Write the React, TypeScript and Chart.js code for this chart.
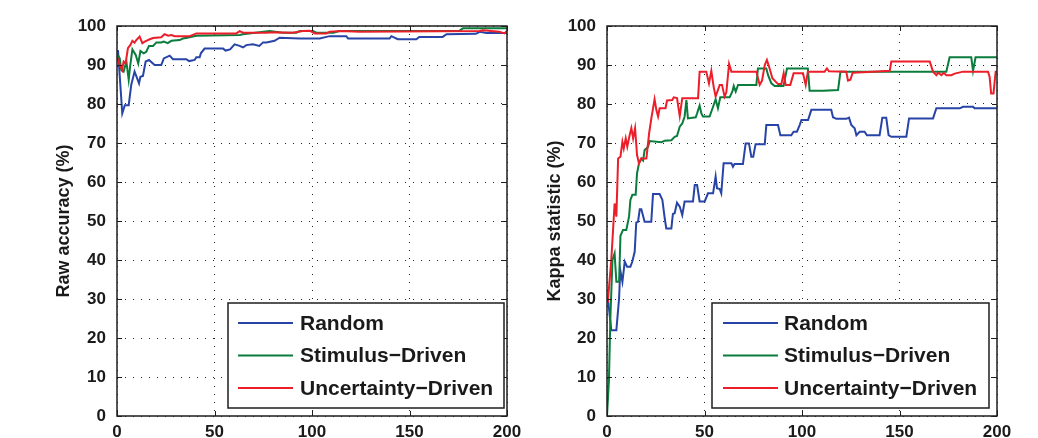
import React, { useEffect, useRef } from "react";
import { Chart, registerables } from "chart.js";

Chart.register(...registerables);

// ---------- data ----------
const xTicks = [0, 50, 100, 150, 200];
const yTicks = [0, 10, 20, 30, 40, 50, 60, 70, 80, 90, 100];
const seriesLabels = ["Random", "Stimulus\u2212Driven", "Uncertainty\u2212Driven"];
const seriesColors = ["#2744a6", "#0a7c3c", "#ec1e2a"];

// Raw accuracy (%) vs. number of samples
const accRandom = [
  [0.5, 93.8], [2.7, 77.6], [4, 79.7], [6, 79.7], [7.3, 84.9], [9, 88.3], [10, 87], [11.3, 85.3],
  [12, 87], [13.3, 87.2], [14.7, 90.9], [16.4, 91.3], [19.3, 90], [22.7, 90], [24, 91.7], [27, 92.4],
  [28.7, 91.5], [35.5, 91.5], [37, 91], [39.8, 91.3], [40.7, 92], [42.4, 92], [43, 93], [44.9, 94.2],
  [54.4, 94.2], [55.7, 93.7], [58, 94], [60.3, 95.3], [62.9, 94.9], [64.6, 94.5], [66.3, 95.1],
  [69.7, 95.3], [73, 94.9], [74.9, 95.8], [76.6, 95.8], [80.8, 96.2], [83.4, 97], [93.7, 96.8],
  [104, 96.8], [109, 97.4], [117.6, 97.4], [118.5, 96.8], [139.8, 96.8], [140.7, 97.4], [144, 96.6],
  [153.5, 96.6], [155, 97.2], [167, 97.2], [169, 97.9], [184, 98], [186, 98.5], [189.4, 98.2], [200, 98.2],
];
const accStimulus = [
  [0.5, 92.5], [1.4, 91.7], [2.2, 88.7], [3.4, 88.3], [4.8, 90.9], [6, 86.2], [6.8, 90], [7.9, 94],
  [9.6, 92.6], [10.9, 90.4], [12, 93.6], [13.7, 93], [15, 93.4], [16.4, 94.9], [18.5, 94.9], [20.2, 95.8],
  [22.7, 95.8], [24, 96], [26, 95.6], [27.9, 96.2], [32.1, 96.4], [33.8, 96.8], [36, 97], [40.7, 97.5],
  [62.9, 97.7], [64.6, 97.9], [78.3, 98.7], [85, 98.3], [92, 98.3], [93.7, 98.7], [100.5, 98.7],
  [102.2, 98.3], [111, 98.3], [114, 98.7], [175.7, 98.8], [177.4, 99.4], [200, 99.4],
];
const accUncertainty = [
  [0, 92.1], [1.4, 90], [2.6, 88.7], [3.4, 90.9], [4.4, 90.4], [5.6, 94.3], [6.8, 95.1], [7.9, 96.2],
  [9, 95.7], [9.9, 96.4], [11.6, 97.3], [13, 95.6], [14.2, 96], [16.8, 96.6], [18.5, 96.9], [22.7, 97.1],
  [24.4, 97.9], [26.2, 97.5], [27.9, 97.7], [29.6, 97.4], [37.3, 97.4], [40.7, 98.1], [61.2, 98.1],
  [62.9, 98.7], [64.6, 98.3], [76.6, 98.3], [80, 98.4], [90, 98.3], [95.4, 98.7], [98.8, 98.8],
  [101.4, 98.1], [107.4, 98.1], [109, 98.5], [115, 98.7], [124.4, 98.5], [186, 98.7], [187.7, 98.9],
  [196, 98.5], [198.8, 98.1], [200, 98.8],
];

// Kappa statistic (%) vs. number of samples
const kapRandom = [
  [0.5, 30], [2.2, 22], [4.8, 22], [6.2, 30.2], [6.8, 37.4], [7.9, 34.4], [9.1, 39.6], [10.3, 38.3],
  [12, 38.3], [13, 39.6], [14.2, 42.1], [15, 49.6], [15.9, 49.8], [16.8, 53], [17.6, 53], [19.3, 49.8],
  [22.7, 49.8], [23.6, 56.9], [27, 56.9], [28.4, 55.4], [29.6, 50.7], [30.4, 48.1], [33, 48.1],
  [33.8, 51.8], [34.7, 52], [35.9, 54.7], [37.3, 53.7], [38.6, 51.5], [39.8, 55], [44.1, 55],
  [45, 59.2], [46.2, 59.2], [47.5, 55], [50.1, 55], [51.8, 57.1], [54.4, 57.1], [55.7, 61.4],
  [56.4, 58.4], [57.8, 58.2], [58.6, 57.1], [59.8, 64.8], [63.8, 64.8], [64.6, 63.9], [65.4, 64.6],
  [69.7, 64.6], [71.1, 69.9], [72.8, 69.9], [74, 66.5], [75, 66.5], [76.2, 69.7], [80.9, 69.7],
  [81.7, 74.6], [87.7, 74.6], [88.9, 72], [94.5, 72], [95.7, 72.9], [97.4, 72.9], [98.8, 74.6],
  [99.7, 75.9], [103.1, 75.9], [104.8, 78.5], [115, 78.5], [115.9, 76.6], [117.6, 76.2], [122.7, 76.2],
  [124.1, 76.5], [125.3, 74.6], [127, 73.8], [127.9, 72], [129.6, 72.9], [132.1, 72.9], [133.3, 72],
  [139.8, 72], [141.2, 76.5], [143.2, 76.5], [144.4, 72], [145.8, 71.6], [153.5, 71.6], [154.9, 76.3],
  [167.2, 76.3], [168.9, 78.9], [180.9, 78.9], [182.6, 79.3], [187.7, 79.3], [188.5, 78.9], [200, 78.9],
];
const kapStimulus = [
  [0, 0], [0.5, 0], [1, 9.2], [1.7, 24.6], [2.8, 40], [3.9, 41.7], [4.8, 34.4], [6.2, 34.4], [6.9, 46.2],
  [8.2, 47.7], [9.9, 47.7], [11.3, 51.1], [12, 55.4], [13, 56.7], [14.7, 56.7], [15.4, 62.2], [16.4, 64.8],
  [17.6, 66], [18.5, 65.5], [19.3, 68.2], [21, 69], [21.9, 70.5], [27.9, 70.2], [29.6, 70.6], [33, 70.7],
  [34.7, 71.6], [35.9, 71.8], [37.3, 74.2], [38.6, 75], [39.8, 76.8], [40.7, 81], [41.5, 76.3],
  [45.5, 76.6], [46.2, 77.6], [47.5, 79.6], [48.4, 77.6], [49.2, 76.8], [52.6, 76.8], [54.4, 79.3],
  [55.7, 81.2], [56.9, 78.9], [58.1, 81.7], [62.9, 81.7], [64.3, 83.2], [65, 84.6], [66, 83.2],
  [67.2, 84.9], [76.6, 84.9], [77.4, 89.1], [81.7, 89.1], [82.6, 87.4], [84.3, 85.3], [86, 84.6],
  [90.5, 84.6], [92.3, 89.1], [103, 89.1], [103.9, 83.4], [110.8, 83.4], [118.5, 83.6], [119.7, 88.3],
  [174, 88.3], [175.7, 92], [186.8, 92], [187.7, 88.5], [189, 92], [200, 92],
];
const kapUncertainty = [
  [0, 30], [0.5, 29.7], [2.2, 40], [3.1, 47.7], [3.9, 54.5], [4.8, 51.1], [5.7, 66], [6.9, 66.5],
  [7.9, 70.3], [8.6, 68.6], [9.6, 71.2], [10.4, 69.1], [11.6, 72], [12.5, 73.8], [13.4, 71.2],
  [14.4, 73.8], [15.4, 66.9], [16.4, 64.8], [17.6, 66], [20.2, 66], [21.6, 72.5], [22.8, 76.5],
  [24.4, 81.2], [25.3, 78.5], [26.2, 76.8], [27, 78.9], [30, 78.9], [30.8, 80.9], [33.5, 81],
  [34.2, 81.7], [35.9, 81.5], [37.3, 76.9], [38.6, 81.5], [46.7, 81.5], [47.5, 88.3], [50.9, 88.3],
  [52.3, 85.3], [53.5, 88.5], [54.7, 84.4], [55.7, 81.9], [57.8, 84.9], [59, 84.9], [60.3, 81.9],
  [61.2, 83], [62.6, 90.3], [63.8, 88.3], [76.6, 88.3], [78.3, 84.9], [79.5, 86], [80.9, 90],
  [82, 91.3], [83.4, 89.1], [84.8, 86.6], [87.7, 85.1], [89.4, 85.1], [90.6, 87.9], [91.6, 84.9],
  [94, 84.9], [95.7, 87.9], [100.5, 87.9], [101.9, 84.9], [103, 88.3], [111.6, 88.3], [112.8, 89.1],
  [113.8, 88.4], [122.7, 88.3], [123.6, 86], [124.8, 86.2], [126, 88], [136.4, 88.3], [145, 88.5],
  [145.8, 90.9], [165.5, 90.9], [167.2, 88.3], [168.9, 87.4], [169.8, 88], [171.5, 87.4], [172.7, 88],
  [174, 87.4], [176.6, 87.4], [178.3, 87.8], [182.6, 88.3], [195.4, 88.3], [196.2, 87], [197, 82.7],
  [198.2, 82.7], [199.3, 88.3], [200, 88.3],
];

// ---------- styling / layout ----------
const FONT = "'Liberation Sans', Arial, Helvetica, sans-serif";
const TEXT = "#1a1a1a";

type PanelCfg = {
  left: number;
  width: number;
  areaLeft: number;
  padRight: number;
  title: string;
  titleCenter: number;
  series: number[][][];
  legend: { left: number; right: number; top: number; bottom: number; lineFrom: number; lineTo: number; textX: number };
};

const panels: PanelCfg[] = [
  {
    left: 0, width: 545, areaLeft: 117, padRight: 38,
    title: "Raw accuracy (%)", titleCenter: 64,
    series: [accRandom, accStimulus, accUncertainty],
    legend: { left: 228, right: 504, top: 303, bottom: 408, lineFrom: 238, lineTo: 293, textX: 300 },
  },
  {
    left: 520, width: 518, areaLeft: 87, padRight: 41,
    title: "Kappa statistic (%)", titleCenter: 35,
    series: [kapRandom, kapStimulus, kapUncertainty],
    legend: { left: 712, right: 989, top: 303, bottom: 408, lineFrom: 723, lineTo: 778, textX: 784 },
  },
];

const framePlugin = {
  id: "matlabFrame",
  afterDatasetsDraw(chart: any) {
    const { ctx, chartArea: a, scales } = chart;
    ctx.save();
    ctx.strokeStyle = "#1e1e1e";
    ctx.lineWidth = 1.5;
    ctx.strokeRect(a.left, a.top, a.right - a.left, a.bottom - a.top);
    ctx.lineWidth = 1;
    const t = 5;
    ctx.beginPath();
    xTicks.forEach((v) => {
      const px = Math.round(scales.x.getPixelForValue(v)) + 0.5;
      ctx.moveTo(px, a.bottom); ctx.lineTo(px, a.bottom - t);
      ctx.moveTo(px, a.top); ctx.lineTo(px, a.top + t);
    });
    yTicks.forEach((v) => {
      const py = Math.round(scales.y.getPixelForValue(v)) + 0.5;
      ctx.moveTo(a.left, py); ctx.lineTo(a.left + t, py);
      ctx.moveTo(a.right, py); ctx.lineTo(a.right - t, py);
    });
    ctx.stroke();
    ctx.restore();
  },
};

const legendPlugin = {
  id: "boxLegend",
  afterDraw(chart: any, _args: any, opts: any) {
    const L = opts.box;
    if (!L) return;
    const off = opts.offset;
    const { ctx } = chart;
    ctx.save();
    const x0 = L.left - off, x1 = L.right - off;
    ctx.fillStyle = "#ffffff";
    ctx.fillRect(x0, L.top, x1 - x0, L.bottom - L.top);
    ctx.strokeStyle = "#1e1e1e";
    ctx.lineWidth = 1.5;
    ctx.strokeRect(x0, L.top, x1 - x0, L.bottom - L.top);
    chart.data.datasets.forEach((ds: any, i: number) => {
      const y = L.top + 20 + 32.5 * i;
      ctx.strokeStyle = ds.borderColor;
      ctx.lineWidth = 2;
      ctx.beginPath();
      ctx.moveTo(L.lineFrom - off, y);
      ctx.lineTo(L.lineTo - off, y);
      ctx.stroke();
      ctx.fillStyle = TEXT;
      ctx.font = `bold 21px ${FONT}`;
      ctx.textBaseline = "middle";
      ctx.textAlign = "left";
      ctx.fillText(ds.label, L.textX - off, y + 1);
    });
    ctx.restore();
  },
};

function Panel({ cfg }: { cfg: PanelCfg }) {
  const ref = useRef<HTMLCanvasElement>(null);
  useEffect(() => {
    const tickFont = { family: FONT, size: 17, weight: "bold" as const };
    const chart = new Chart(ref.current!, {
      type: "line",
      data: {
        datasets: cfg.series.map((s, i) => ({
          label: seriesLabels[i],
          data: s.map(([x, y]) => ({ x, y })),
          borderColor: seriesColors[i],
          backgroundColor: seriesColors[i],
          borderWidth: 2,
          pointRadius: 0,
          tension: 0,
          fill: false,
          order: 2 - i,
        })),
      },
      options: {
        animation: false,
        responsive: false,
        events: [],
        layout: { padding: { left: 0, top: 26, right: cfg.padRight, bottom: 0 } },
        plugins: {
          legend: { display: false },
          tooltip: { enabled: false },
          boxLegend: { box: cfg.legend, offset: cfg.left },
        } as any,
        scales: {
          x: {
            type: "linear",
            min: 0,
            max: 200,
            afterBuildTicks: (s: any) => { s.ticks = xTicks.map((v) => ({ value: v })); },
            afterFit: (s: any) => { s.height = 22; },
            ticks: { font: tickFont, color: TEXT, padding: 6, maxRotation: 0 },
            grid: { color: "#222", lineWidth: 1, drawTicks: false },
            border: { display: false, dash: [1, 7] },
          },
          y: {
            type: "linear",
            min: 0,
            max: 100,
            afterBuildTicks: (s: any) => { s.ticks = yTicks.map((v) => ({ value: v })); },
            afterFit: (s: any) => { s.width = cfg.areaLeft; },
            ticks: { font: tickFont, color: TEXT, padding: 11 },
            grid: { color: "#222", lineWidth: 1, drawTicks: false },
            border: { display: false, dash: [1, 7] },
            title: {
              display: true,
              text: cfg.title,
              color: TEXT,
              font: { family: FONT, size: 18, weight: "bold" },
              padding: { top: cfg.titleCenter - 10.8, bottom: 0 },
            },
          },
        },
      },
      plugins: [framePlugin, legendPlugin],
    });
    return () => chart.destroy();
  }, [cfg]);
  return (
    <div style={{ position: "absolute", left: cfg.left, top: 0, width: cfg.width, height: 438 }}>
      <canvas ref={ref} width={cfg.width} height={438} style={{ width: cfg.width, height: 438, display: "block" }} />
    </div>
  );
}

export default function App() {
  return (
    <div style={{ position: "fixed", left: 0, top: 0, width: 1038, height: 438, background: "#fff", overflow: "hidden" }}>
      {panels.map((p, i) => (
        <Panel key={i} cfg={p} />
      ))}
    </div>
  );
}
